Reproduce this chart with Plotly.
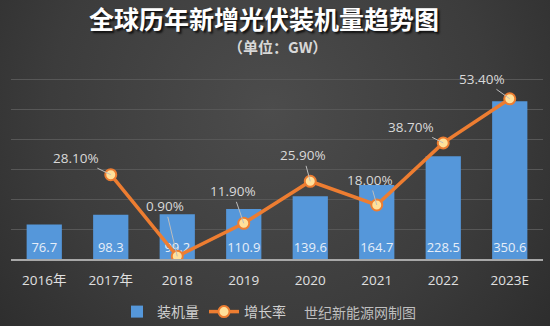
import base64
import plotly.graph_objects as go

# ---- data ----
years = ["2016年", "2017年", "2018", "2019", "2020", "2021", "2022", "2023E"]
capacity = [76.7, 98.3, 99.2, 110.9, 139.6, 164.7, 228.5, 350.6]
rate_years = ["2017年", "2018", "2019", "2020", "2021", "2022", "2023E"]
growth = [28.10, 0.90, 11.90, 25.90, 18.00, 38.70, 53.40]
rate_labels = ["28.10%", "0.90%", "11.90%", "25.90%", "18.00%", "38.70%", "53.40%"]
# label offsets (pixels) for the leader lines
label_dx = [-35, -12, -11, -7, -7, -32, -28]
label_dy = [-17, -50, -32, -26, -25, -16, -20]

FONT = "Open Sans, Noto Sans CJK SC, sans-serif"
CJK = "Noto Sans CJK SC, sans-serif"

svg = """<svg xmlns='http://www.w3.org/2000/svg' width='550' height='326'>
<defs><radialGradient id='g' gradientUnits='userSpaceOnUse' cx='270' cy='110' r='400'>
<stop offset='0' stop-color='#4c4c4c'/><stop offset='0.55' stop-color='#3c3c3c'/><stop offset='1' stop-color='#282828'/>
</radialGradient></defs><rect width='550' height='326' fill='url(#g)'/></svg>"""
bg_src = "data:image/svg+xml;base64," + base64.b64encode(svg.encode()).decode()

fig = go.Figure()
fig.add_trace(go.Bar(
    x=years, y=capacity, name="装机量",
    marker=dict(color="#5597da", line=dict(width=0)),
    text=[f"{v:g}" for v in capacity], textposition="inside",
    insidetextanchor="start", constraintext="none", textangle=0,
    textfont=dict(color="#e6eef8", size=13, family=FONT),
))
fig.add_trace(go.Scatter(
    x=rate_years, y=growth, name="增长率", yaxis="y2",
    mode="lines+markers",
    line=dict(color="#ed7d31", width=3.5),
    marker=dict(size=11, color="#ffe09a", line=dict(color="#ed7d31", width=2)),
))

annotations = []
for xv, yv, t, dx, dy in zip(rate_years, growth, rate_labels, label_dx, label_dy):
    annotations.append(dict(
        x=years.index(xv), y=yv, xref="x", yref="y2", text=t, showarrow=True,
        arrowhead=0, arrowwidth=1, arrowcolor="#bdbdbd", ax=dx, ay=dy,
        font=dict(color="#d9d9d9", size=13.5, family=FONT),
    ))
annotations.append(dict(
    x=(277 - 11) / 532, y=(259 - 46) / 210, xref="paper", yref="paper",
    xanchor="center", yanchor="middle",
    text="<b>（单位：GW）</b>", showarrow=False,
    font=dict(color="#d8d8d8", size=15, family=CJK),
))
annotations.append(dict(
    x=(360 - 11) / 532, y=(259 - 312) / 210, xref="paper", yref="paper",
    xanchor="center", yanchor="middle",
    text="世纪新能源网制图", showarrow=False,
    font=dict(color="#bfbfbf", size=14, family=CJK),
))

fig.update_layout(
    width=550, height=326,
    margin=dict(l=11, r=7, t=49, b=67, autoexpand=False),
    paper_bgcolor="#3a3a3a", plot_bgcolor="rgba(0,0,0,0)",
    bargap=0.47,
    images=[dict(source=bg_src, xref="paper", yref="paper",
                 x=-11 / 532, y=1 + 49 / 210, sizex=550 / 532, sizey=326 / 210,
                 xanchor="left", yanchor="top", sizing="stretch", layer="below")],
    title=dict(text="<b>全球历年新增光伏装机量趋势图</b>", x=264 / 550, xanchor="center",
               y=1 - 20 / 326, yanchor="middle",
               font=dict(color="#ffffff", size=25, family=CJK, shadow="2px 2px 2px #111")),
    xaxis=dict(type="category", range=[-0.5, len(years) - 0.5],
               showline=True, linecolor="#a8a8a8", linewidth=1.5,
               ticks="", showgrid=False, ticklabelstandoff=8,
               tickfont=dict(color="#e0e0e0", size=13.5, family=FONT)),
    yaxis=dict(range=[0, 466.67], showticklabels=False, showgrid=False,
               zeroline=False, ticks=""),
    yaxis2=dict(range=[0, 70], dtick=10, overlaying="y",
                showgrid=True, gridcolor="#575757", gridwidth=1,
                showticklabels=False, zeroline=False, ticks=""),
    legend=dict(orientation="h", x=(117 - 11) / 532, xanchor="left",
                yref="container", y=1 - 312 / 326, yanchor="middle",
                font=dict(color="#cfcfcf", size=14, family=CJK),
                bgcolor="rgba(0,0,0,0)"),
    annotations=annotations,
    showlegend=True,
)

fig.write_html("out.html")
